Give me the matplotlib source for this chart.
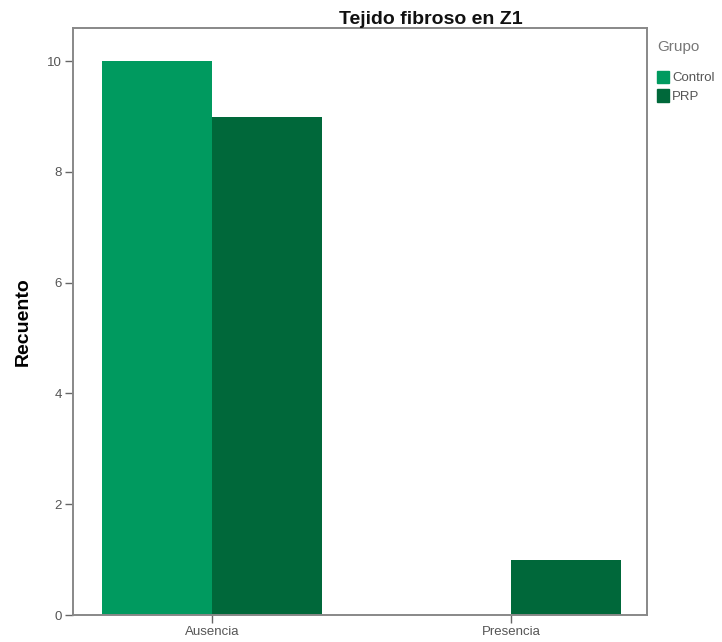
import matplotlib.pyplot as plt
import matplotlib.patches as mpatches
import numpy as np

plt.rcParams['font.family'] = ['Liberation Sans', 'DejaVu Sans']

categories = ["Ausencia", "Presencia"]
groups = ["Control", "PRP"]
control = [10, 0]
prp = [9, 1]
colors = ["#009a5f", "#00683a"]
yticks = [0, 2, 4, 6, 8, 10]

W, H = 722, 642
fig = plt.figure(figsize=(W / 100, H / 100), dpi=100)
ax = fig.add_axes([73 / W, 1 - 615 / H, (647 - 73) / W, (615 - 28) / H])

x = np.arange(len(categories))
w = 0.368
ax.bar(x - w / 2, control, w, color=colors[0], edgecolor="none")
ax.bar(x + w / 2, prp, w, color=colors[1], edgecolor="none")

ax.set_xlim(-0.465, 1.455)
ax.set_ylim(0, 10.6)
ax.set_xticks(x)
ax.set_xticklabels(categories, fontsize=9.5, color="#555555")
ax.set_yticks(yticks)
ax.set_yticklabels([str(t) for t in yticks], fontsize=9.5, color="#555555")
ax.tick_params(axis="both", length=6, width=1, color="#666666", direction="out", pad=2)

for s in ax.spines.values():
    s.set_color("#888888")
    s.set_linewidth(1.4)

ax.set_ylabel("Recuento", fontsize=14, fontweight="bold", labelpad=11)
fig.text(431 / W, 1 - 24 / H, "Tejido fibroso en Z1", fontsize=14,
         fontweight="bold", ha="center", va="baseline", color="#111111")

handles = [mpatches.Patch(color=c, label=g) for c, g in zip(colors, groups)]
leg = fig.legend(handles=handles, title="Grupo", loc="upper left",
                 bbox_to_anchor=(657 / W, 1 - 40 / H), frameon=False, fontsize=9.5,
                 title_fontsize=11, handlelength=0.9, handleheight=1.1,
                 handletextpad=0.25, borderaxespad=0, borderpad=0,
                 labelspacing=0.35)
leg._legend_box.align = "left"
leg._legend_box.sep = 12
for t in leg.get_texts():
    t.set_color("#555555")
leg.get_title().set_color("#777777")

fig.savefig("out.png", dpi=100)
